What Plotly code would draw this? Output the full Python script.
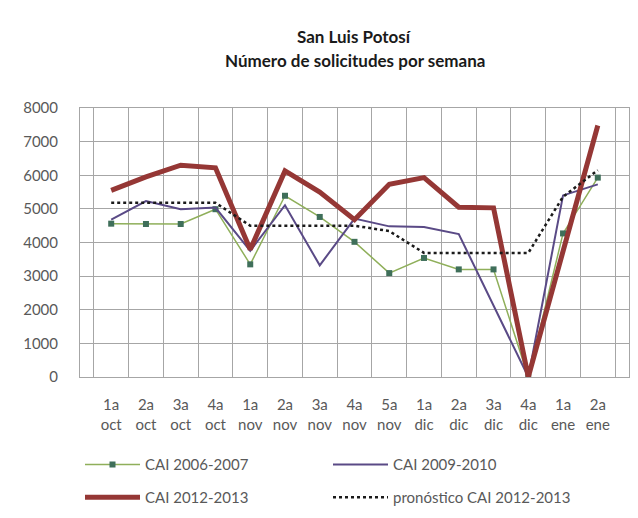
import plotly.graph_objects as go

weeks = ["1a<br>oct", "2a<br>oct", "3a<br>oct", "4a<br>oct", "1a<br>nov", "2a<br>nov",
         "3a<br>nov", "4a<br>nov", "5a<br>nov", "1a<br>dic", "2a<br>dic", "3a<br>dic",
         "4a<br>dic", "1a<br>ene", "2a<br>ene"]

cai_2006_2007 = [4560, 4550, 4550, 4990, 3350, 5390, 4760, 4020, 3090, 3540, 3200, 3200, 0, 4270, 5930]
cai_2009_2010 = [4680, 5230, 4990, 5040, 3750, 5110, 3320, 4710, 4480, 4460, 4250, 2150, 0, 5400, 5730]
cai_2012_2013 = [5550, 5950, 6300, 6220, 3790, 6130, 5500, 4680, 5730, 5930, 5050, 5030, 0, 3800, 7480]
pronostico_2012_2013 = [5180, 5180, 5180, 5180, 4500, 4500, 4500, 4500, 4340, 3690, 3690, 3690, 3690, 5360, 6150]

names = ["CAI 2006-2007", "CAI 2009-2010", "CAI 2012-2013", "pronóstico CAI 2012-2013"]
title_lines = ["San Luis Potosí", "Número de solicitudes por semana"]

FONT = "Lato, 'Liberation Sans', sans-serif"
GRAY = "#595959"

fig = go.Figure()
fig.add_trace(go.Scatter(
    x=weeks, y=cai_2006_2007, name=names[0], mode="lines+markers",
    line=dict(color="#8FAF5A", width=1.5),
    marker=dict(symbol="square", size=6, color="#3F6F5A"),
    legend="legend"))
fig.add_trace(go.Scatter(
    x=weeks, y=cai_2009_2010, name=names[1], mode="lines",
    line=dict(color="#5A4A86", width=2),
    legend="legend"))
fig.add_trace(go.Scatter(
    x=weeks, y=cai_2012_2013, name=names[2], mode="lines",
    line=dict(color="#953735", width=5),
    legend="legend2"))
fig.add_trace(go.Scatter(
    x=weeks, y=pronostico_2012_2013, name=names[3], mode="lines",
    line=dict(color="#1A1A1A", width=2.5, dash="dot"),
    legend="legend2"))

legend_common = dict(orientation="h", x=0.0, xanchor="left", yanchor="middle",
                     entrywidth=178, entrywidthmode="pixels",
                     font=dict(size=15, color=GRAY), itemwidth=55,
                     bgcolor="rgba(0,0,0,0)")

fig.update_layout(
    width=638, height=518,
    margin=dict(l=72, r=17, t=100, b=130),
    paper_bgcolor="white", plot_bgcolor="white",
    font=dict(family=FONT, size=15, color=GRAY),
    showlegend=True,
    legend=dict(y=-0.326, **legend_common),
    legend2=dict(y=-0.448, **legend_common),
    annotations=[
        dict(text="<b>" + title_lines[0] + "</b>", xref="paper", yref="paper",
             x=0.5, y=1.0, yshift=72, xanchor="center", yanchor="middle",
             showarrow=False, font=dict(family=FONT, size=17, color="#1A1A1A")),
        dict(text="<b>" + title_lines[1] + "</b>", xref="paper", yref="paper",
             x=0.5, y=1.0, yshift=48, xanchor="center", yanchor="middle",
             showarrow=False, font=dict(family=FONT, size=17, color="#1A1A1A")),
    ],
)

fig.update_xaxes(
    type="category", tickson="boundaries",
    showgrid=True, gridcolor="#A6A6A6", gridwidth=1,
    showline=True, linecolor="#A6A6A6", mirror=True,
    ticks="", tickfont=dict(size=15, color=GRAY), ticklabelstandoff=14)
fig.update_yaxes(
    range=[0, 8000], dtick=1000,
    showgrid=True, gridcolor="#A6A6A6", gridwidth=1,
    showline=True, linecolor="#A6A6A6", mirror=True, zeroline=False,
    ticks="", tickfont=dict(size=15, color=GRAY), ticklabelstandoff=18)

fig.write_html("out.html")
